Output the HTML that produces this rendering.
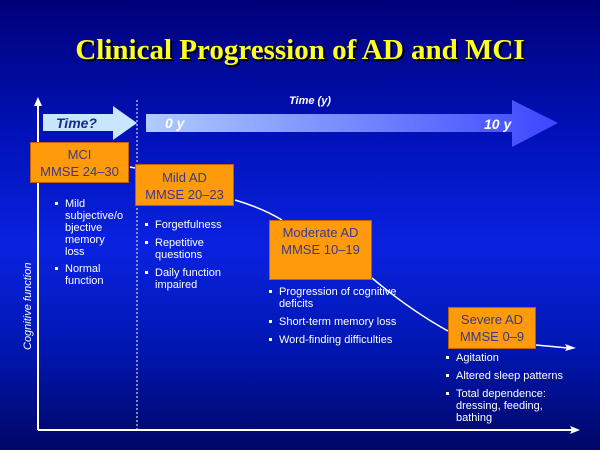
<!DOCTYPE html>
<html><head><style>
body{margin:0}
#c{position:relative;width:600px;height:450px;overflow:hidden;background:linear-gradient(180deg,#000078 0%,#0012b8 30%,#0a22e0 55%,#0016b0 78%,#000766 100%);font-family:"Liberation Sans",Arial,sans-serif;color:#fff}
.t{position:absolute;left:0;width:600px;top:34px;text-align:center;font-family:"Liberation Serif",serif;font-weight:bold;font-size:29px;color:#ffff22;text-shadow:2px 2px 0 #000}
.box{position:absolute;background:#ff9a0a;color:#3a3a8a;text-align:center;font-size:13px;line-height:17px;border:1px solid #c06000}
.b{position:absolute;font-size:11px;line-height:12px;color:#fff}
.b div{position:relative;padding-left:10px;margin-bottom:6px}
.b div:before{content:"";position:absolute;left:0;top:4px;width:3px;height:3px;background:#fff}
</style></head><body><div id="c">
<div class="t">Clinical Progression of AD and MCI</div>
<svg width="600" height="450" style="position:absolute;left:0;top:0">
<defs><linearGradient id="g" x1="0" x2="1"><stop offset="0" stop-color="#b0ccff"/><stop offset="1" stop-color="#3c46ff"/></linearGradient></defs>
<polygon points="146,114 512,114 512,100 558,123 512,147 512,132 146,132" fill="url(#g)"/>
<polygon points="43,114 113,114 113,106 137,123 113,140 113,131 43,131" fill="#c8e6ff"/>
<line x1="38" y1="430" x2="38" y2="104" stroke="#fff" stroke-width="2"/>
<polygon points="38,97 34,106 42,106" fill="#fff"/>
<line x1="38" y1="430" x2="572" y2="430" stroke="#fff" stroke-width="2"/>
<polygon points="580,430 570,426 572,430 570,434" fill="#fff"/>
<line x1="137" y1="100" x2="137" y2="430" stroke="#fff" stroke-width="1" stroke-dasharray="2,2"/>
<path d="M130,167 L135,168 M235,200 Q262,208 282,220 M372,278 Q410,310 448,331 M536,345 L568,348" stroke="#fff" stroke-width="1.5" fill="none"/>
<polygon points="576,348 565,344 567,348 565,351" fill="#fff"/>
<text x="165" y="128" font-size="14" font-style="italic" font-weight="bold" fill="#fff" font-family="Liberation Sans">0 y</text>
<text x="484" y="129" font-size="14" font-style="italic" font-weight="bold" fill="#fff" font-family="Liberation Sans">10 y</text>
<text x="56" y="128" font-size="14" font-style="italic" font-weight="bold" fill="#1a2a8a" font-family="Liberation Sans">Time?</text>
<text x="289" y="104" font-size="11" font-style="italic" font-weight="bold" fill="#fff" font-family="Liberation Sans">Time (y)</text>
<text transform="translate(31,350) rotate(-90)" font-size="11" font-style="italic" fill="#fff" font-family="Liberation Sans">Cognitive function</text>
</svg>
<div class="box" style="left:30px;top:142px;width:99px;height:41px;padding-top:3px;box-sizing:border-box">MCI<br>MMSE 24–30</div>
<div class="box" style="left:135px;top:164px;width:99px;height:42px;padding-top:4px;box-sizing:border-box">Mild AD<br>MMSE 20–23</div>
<div class="box" style="left:269px;top:220px;width:103px;height:60px;padding-top:3px;box-sizing:border-box">Moderate AD<br>MMSE 10–19</div>
<div class="box" style="left:448px;top:307px;width:88px;height:42px;padding-top:3px;box-sizing:border-box">Severe AD<br>MMSE 0–9</div>
<div class="b" style="left:55px;top:198px;width:72px"><div style="margin-bottom:5px">Mild subjective/o bjective memory loss</div><div>Normal function</div></div>
<div class="b" style="left:145px;top:219px;width:100px"><div>Forgetfulness</div><div>Repetitive questions</div><div>Daily function impaired</div></div>
<div class="b" style="left:269px;top:286px;width:150px"><div>Progression of cognitive deficits</div><div>Short-term memory loss</div><div>Word-finding difficulties</div></div>
<div class="b" style="left:446px;top:352px;width:130px"><div>Agitation</div><div>Altered sleep patterns</div><div>Total dependence: dressing, feeding, bathing</div></div>
</div></body></html>
